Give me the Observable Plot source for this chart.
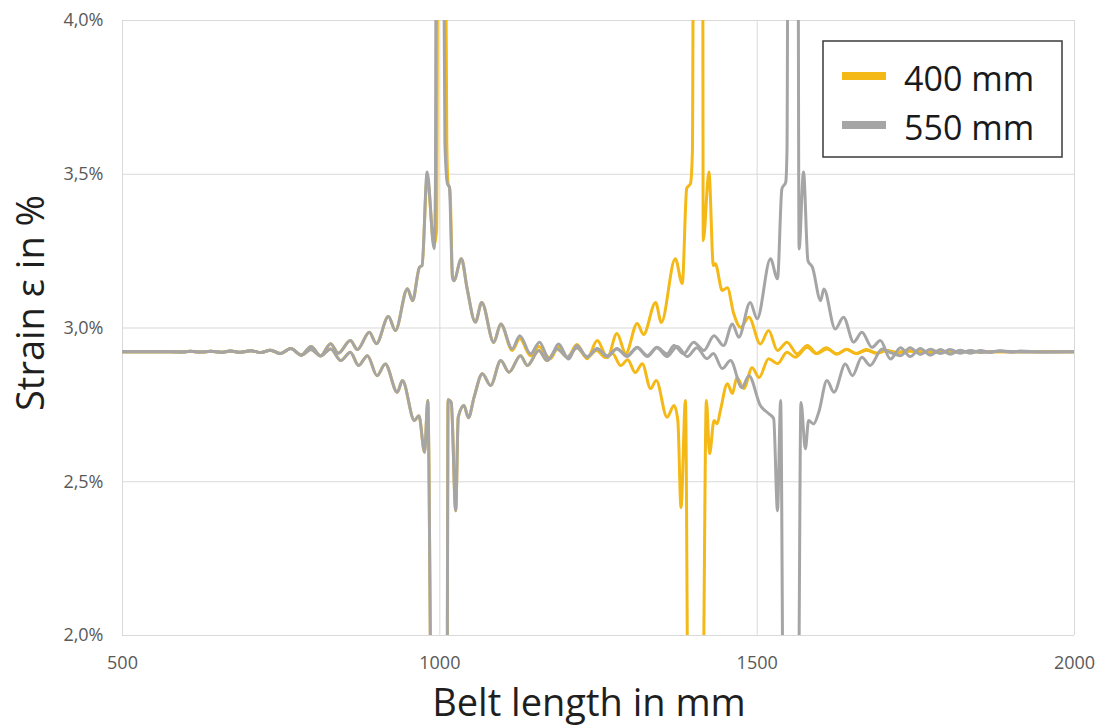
<!DOCTYPE html>
<html><head><meta charset="utf-8">
<script src="https://cdn.jsdelivr.net/npm/d3@7"></script>
<script src="https://cdn.jsdelivr.net/npm/@observablehq/plot@0.6"></script>
<style>
body{margin:0;background:#fff;}
#chart{position:relative;width:1099px;height:727px;}
</style></head><body><div id="chart"></div>
<script>
// Axis ticks
const xTicks = [500, 1000, 1500, 2000];
const yTicks = [2.0, 2.5, 3.0, 3.5, 4.0];
const seriesNames = ["400 mm", "550 mm"];
const seriesColors = ["#f4b916", "#a5a5a5"];
const xTitle = "Belt length in mm";
const yTitle = "Strain ε in %";

// [belt length mm, strain %] — flat common start shared by all four curves
const startPoints = [[500,2.923],[560,2.923],[592,2.922],[607,2.924],[623,2.922],[639,2.924],[655,2.921],[670,2.925],[686,2.921],[702,2.926],[718,2.920],[733,2.928],[749,2.917],[765,2.933],[782,2.912]];

// 550 mm upper envelope
const gray550Upper = [[797,2.940],[812,2.910],[828,2.949],[840,2.918],[859,2.959],[870,2.930],[889,2.986],[900,2.949],[919,3.037],[930,2.992],[949,3.128],[957,3.089],[968,3.198],[972,3.203],[980,3.507],[991,3.258],[993,3.447],[994.5,4.6],[1005,4.6],[1008,3.6],[1012,3.469],[1015,3.458],[1020,3.164],[1022,3.154],[1034,3.225],[1043,3.128],[1056,3.019],[1066,3.083],[1085,2.953],[1096,3.013],[1114,2.932],[1126,2.975],[1143,2.916],[1157,2.954],[1172,2.899],[1187,2.948],[1203,2.899],[1216,2.943],[1232,2.905],[1248,2.932],[1264,2.910],[1279,2.932],[1295,2.910],[1311,2.937],[1327,2.910],[1342,2.937],[1358,2.916],[1369,2.943],[1384,2.916],[1400,2.954],[1416,2.927],[1432,2.975],[1447,2.943],[1461,3.013],[1471,2.970],[1489,3.083],[1500,3.030],[1521,3.225],[1532,3.160],[1539,3.453],[1545,3.474],[1547,3.577],[1549,4.6],[1564,4.6],[1566,3.257],[1573,3.507],[1580,3.219],[1587,3.198],[1600,3.089],[1605,3.127],[1623,2.997],[1636,3.035],[1652,2.954],[1665,2.986],[1681,2.937],[1694,2.959],[1710,2.899],[1726,2.936],[1741,2.907],[1757,2.933],[1773,2.912],[1789,2.930],[1804,2.915],[1820,2.928],[1836,2.918],[1852,2.927],[1867,2.920],[1883,2.926],[1899,2.921],[1915,2.925],[1946,2.922],[2000,2.923]];

// 550 mm lower envelope
const gray550Lower = [[797,2.930],[812,2.909],[828,2.932],[844,2.894],[859,2.921],[872,2.878],[886,2.910],[901,2.845],[914,2.883],[933,2.791],[941,2.829],[960,2.699],[967,2.715],[976,2.596],[981,2.764],[988,1.5],[1011,1.5],[1013,2.767],[1018,2.758],[1025,2.406],[1029,2.710],[1038,2.748],[1045,2.708],[1054,2.775],[1067,2.851],[1080,2.813],[1096,2.894],[1109,2.856],[1127,2.910],[1138,2.878],[1156,2.927],[1169,2.894],[1185,2.932],[1201,2.905],[1216,2.936],[1232,2.907],[1248,2.933],[1264,2.907],[1279,2.933],[1295,2.907],[1311,2.936],[1327,2.907],[1342,2.936],[1358,2.907],[1374,2.940],[1390,2.907],[1405,2.936],[1421,2.900],[1431,2.917],[1445,2.868],[1458,2.894],[1476,2.806],[1487,2.845],[1505,2.748],[1518,2.722],[1526,2.705],[1532,2.406],[1537,2.764],[1542,1.5],[1564,1.5],[1569,2.758],[1576,2.607],[1581,2.699],[1589,2.688],[1597,2.726],[1610,2.829],[1621,2.791],[1639,2.883],[1650,2.845],[1665,2.905],[1678,2.878],[1697,2.932],[1710,2.920],[1726,2.910],[1741,2.936],[1757,2.914],[1773,2.931],[1789,2.917],[1804,2.930],[1820,2.918],[1836,2.927],[1852,2.920],[1883,2.925],[1915,2.922],[2000,2.923]];

// 400 mm upper envelope
const yellow400Upper = [[797,2.940],[812,2.910],[828,2.949],[840,2.918],[859,2.959],[870,2.930],[889,2.986],[900,2.949],[919,3.037],[930,2.992],[949,3.128],[957,3.089],[968,3.198],[972,3.203],[980,3.49],[991,3.27],[995,3.32],[997,4.6],[1008,4.6],[1011,3.6],[1013,3.47],[1016,3.45],[1020,3.164],[1022,3.154],[1034,3.225],[1043,3.128],[1056,3.019],[1066,3.083],[1085,2.953],[1096,3.013],[1114,2.927],[1126,2.966],[1143,2.910],[1156,2.940],[1174,2.900],[1187,2.940],[1201,2.904],[1216,2.946],[1232,2.900],[1248,2.959],[1264,2.904],[1279,2.982],[1293,2.917],[1311,3.015],[1321,2.979],[1340,3.083],[1349,3.018],[1371,3.225],[1382,3.145],[1389,3.454],[1395,3.470],[1398,3.577],[1400,4.6],[1414,4.6],[1415,3.284],[1424,3.507],[1431,3.203],[1434,3.209],[1445,3.122],[1453,3.131],[1463,3.047],[1474,3.002],[1487,3.035],[1505,2.948],[1518,2.992],[1532,2.927],[1547,2.954],[1563,2.916],[1579,2.943],[1594,2.917],[1610,2.932],[1626,2.916],[1641,2.930],[1656,2.917],[1672,2.928],[1688,2.918],[1704,2.927],[1719,2.920],[1741,2.925],[1773,2.921],[1820,2.923],[2000,2.923]];

// 400 mm lower envelope
const yellow400Lower = [[797,2.930],[812,2.909],[828,2.932],[844,2.894],[859,2.921],[872,2.878],[886,2.910],[901,2.845],[914,2.883],[933,2.791],[941,2.829],[960,2.699],[967,2.715],[976,2.596],[981,2.764],[988,1.5],[1011,1.5],[1013,2.767],[1018,2.758],[1025,2.406],[1029,2.710],[1038,2.748],[1045,2.708],[1054,2.775],[1067,2.851],[1080,2.813],[1096,2.894],[1109,2.856],[1127,2.910],[1138,2.878],[1156,2.927],[1169,2.894],[1185,2.932],[1201,2.905],[1216,2.936],[1232,2.904],[1247,2.927],[1261,2.904],[1272,2.917],[1285,2.878],[1296,2.897],[1308,2.855],[1319,2.884],[1332,2.803],[1341,2.829],[1358,2.710],[1369,2.748],[1375,2.699],[1380,2.416],[1387,2.764],[1392,1.5],[1413,1.5],[1420,2.764],[1425,2.591],[1432,2.699],[1437,2.689],[1442,2.731],[1453,2.819],[1461,2.787],[1468,2.839],[1479,2.803],[1492,2.871],[1503,2.839],[1518,2.900],[1532,2.884],[1547,2.921],[1560,2.905],[1579,2.937],[1593,2.917],[1609,2.936],[1625,2.915],[1641,2.931],[1656,2.917],[1672,2.930],[1688,2.918],[1704,2.927],[1719,2.920],[1741,2.925],[1773,2.921],[1820,2.923],[2000,2.923]];

const curves = [
  {series: seriesNames[0], key: "400u", pts: yellow400Upper},
  {series: seriesNames[0], key: "400l", pts: yellow400Lower},
  {series: seriesNames[1], key: "550u", pts: gray550Upper},
  {series: seriesNames[1], key: "550l", pts: gray550Lower}
];
const data = curves.flatMap(c => [...startPoints, ...c.pts].map(([mm, pct]) => ({mm, pct, series: c.series, key: c.key})));

const font = "'Open Sans', sans-serif";
const plot = Plot.plot({
  width: 1099, height: 727,
  marginLeft: 122, marginRight: 25, marginTop: 20, marginBottom: 92,
  style: {fontFamily: font, fontSize: "18px", color: "#595959", background: "#fff", overflow: "visible"},
  x: {domain: [500, 2000], ticks: xTicks, tickSize: 0, tickPadding: 21, label: null, tickFormat: d => String(d)},
  y: {domain: [2, 4], ticks: yTicks, tickSize: 0, tickPadding: 19, label: null,
      tickFormat: d => d.toFixed(1).replace(".", ",") + "%"},
  color: {domain: seriesNames, range: seriesColors},
  marks: [
    Plot.gridX(xTicks, {stroke: "#d9d9d9", strokeOpacity: 1, strokeWidth: 1}),
    Plot.gridY(yTicks, {stroke: "#d9d9d9", strokeOpacity: 1, strokeWidth: 1}),
    Plot.line(data, {x: "mm", y: "pct", z: "key", stroke: "series", strokeWidth: 3, curve: "monotone-x", clip: true})
  ]
});
document.getElementById("chart").appendChild(plot);

const svg = d3.select(plot);
svg.append("text").attr("x", 589).attr("y", 716).attr("text-anchor", "middle")
  .attr("font-size", 38).attr("fill", "#1f1f1f").attr("font-family", font).text(xTitle);
svg.append("text").attr("transform", "translate(44,303) rotate(-90)").attr("text-anchor", "middle")
  .attr("font-size", 38).attr("fill", "#1f1f1f").attr("font-family", font).text(yTitle);

const lg = svg.append("g");
lg.append("rect").attr("x", 823).attr("y", 41).attr("width", 239).attr("height", 116)
  .attr("fill", "#fff").attr("stroke", "#3a3a3a").attr("stroke-width", 1.5);
seriesNames.forEach((name, i) => {
  const cy = 76 + i * 49;
  lg.append("line").attr("x1", 842).attr("x2", 886).attr("y1", cy).attr("y2", cy)
    .attr("stroke", seriesColors[i]).attr("stroke-width", 8);
  lg.append("text").attr("x", 904).attr("y", cy + 15).attr("text-anchor", "start").attr("font-size", 34)
    .attr("fill", "#1a1a1a").attr("font-family", font).text(name);
});
</script>
</body></html>
